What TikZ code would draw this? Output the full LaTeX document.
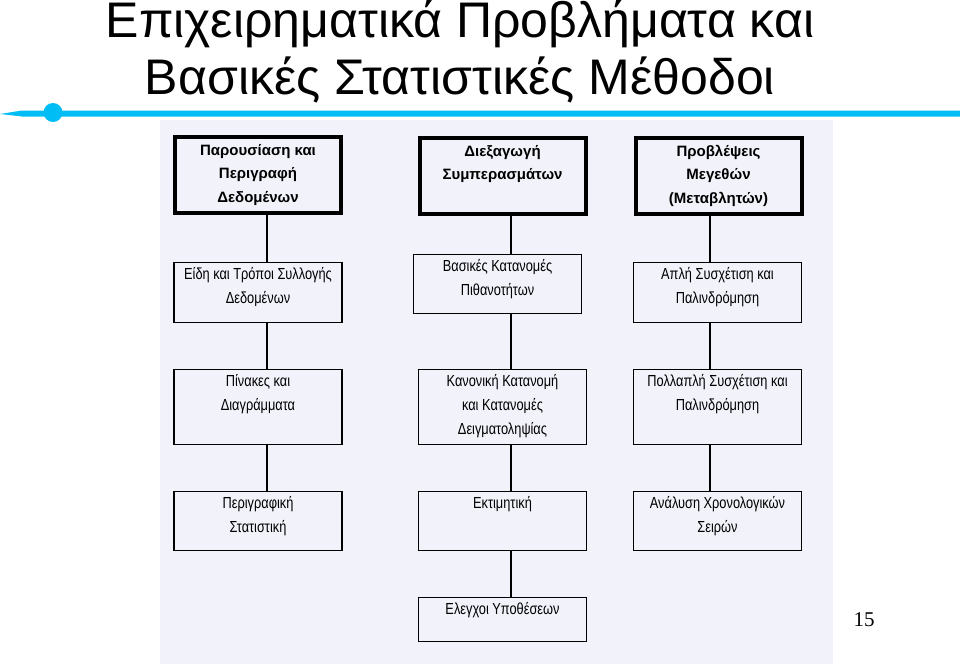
\documentclass[tikz,border=0pt]{standalone}
\usepackage{fontspec}
\setmainfont{Liberation Sans}
\newfontfamily\boxfont[FakeStretch=0.8]{Liberation Sans}
\newfontfamily\pagefont{Liberation Serif}
\definecolor{barblue}{RGB}{0,190,245}
\definecolor{panel}{RGB}{242,242,251}
\tikzset{
  box/.style={draw, line width=1.3pt, minimum width=168pt, minimum height=#1, inner sep=0pt},
  headbox/.style={draw, line width=4pt, minimum width=166pt, minimum height=76pt, inner sep=0pt},
  txt/.style={anchor=north, align=center, inner sep=0pt, yshift=-5pt, font=\boxfont\fontsize{16}{24}\selectfont},
  headtxt/.style={anchor=north, align=center, inner sep=0pt, yshift=-9pt, font=\bfseries\fontsize{15}{23.5}\selectfont},
  link/.style={line width=1.3pt}
}
\begin{document}
\begin{tikzpicture}[x=1pt,y=-1pt]
\useasboundingbox (0,0) rectangle (960,664);
\fill[panel] (160,120) rectangle (833,664);
\fill[barblue] (0,114) -- (22,110.5) -- (960,110.5) -- (960,116.5) -- (22,116.5) -- cycle;
\fill[barblue] (53,112.5) circle (9.5);
\node[anchor=base, align=center, font=\fontsize{50}{57}\selectfont] (title) at (460,94)
  {Επιχειρηματικά Προβλήματα και\\Βασικές Στατιστικές Μέθοδοι};

\node[headbox, label={[headtxt]north:Παρουσίαση και\\Περιγραφή\\Δεδομένων}] (a1) at (258,175) {};
\node[box=60, label={[txt]north:Είδη και Τρόποι Συλλογής\\Δεδομένων}] (a2) at (258,292.5) {};
\node[box=75, label={[txt]north:Πίνακες και\\Διαγράμματα}] (a3) at (258,407) {};
\node[box=59, label={[txt]north:Περιγραφική\\Στατιστική}] (a4) at (258,521) {};

\node[headbox, label={[headtxt]north:Διεξαγωγή\\Συμπερασμάτων}] (b1) at (502.5,176) {};
\node[box=59, label={[txt]north:Βασικές Κατανομές\\Πιθανοτήτων}] (b2) at (497.5,284) {};
\node[box=75, label={[txt]north:Κανονική Κατανομή\\και Κατανομές\\Δειγματοληψίας}] (b3) at (502.5,407) {};
\node[box=59, label={[txt]north:Εκτιμητική}] (b4) at (502.5,521) {};
\node[box=44, label={[txt]north:Ελεγχοι Υποθέσεων}] (b5) at (502.5,619.5) {};

\node[headbox, label={[headtxt]north:Προβλέψεις\\Μεγεθών\\(Μεταβλητών)}] (c1) at (718.5,176) {};
\node[box=60, label={[txt]north:Απλή Συσχέτιση και\\Παλινδρόμηση}] (c2) at (717.5,292.5) {};
\node[box=75, label={[txt]north:Πολλαπλή Συσχέτιση και\\Παλινδρόμηση}] (c3) at (717.5,407) {};
\node[box=59, label={[txt]north:Ανάλυση Χρονολογικών\\Σειρών}] (c4) at (717.5,521) {};

\coordinate (k1) at (267,0);
\coordinate (k2) at (511,0);
\coordinate (k3) at (710,0);
\foreach \u/\v/\k in {a1/a2/k1, a2/a3/k1, a3/a4/k1, b1/b2/k2, b2/b3/k2, b3/b4/k2, b4/b5/k2, c1/c2/k3, c2/c3/k3, c3/c4/k3}
  \draw[link] (\u.south -| \k) -- (\v.north -| \k);

\node[font=\pagefont\fontsize{21}{21}\selectfont] (pnum) at (864,620) {15};
\end{tikzpicture}
\end{document}
